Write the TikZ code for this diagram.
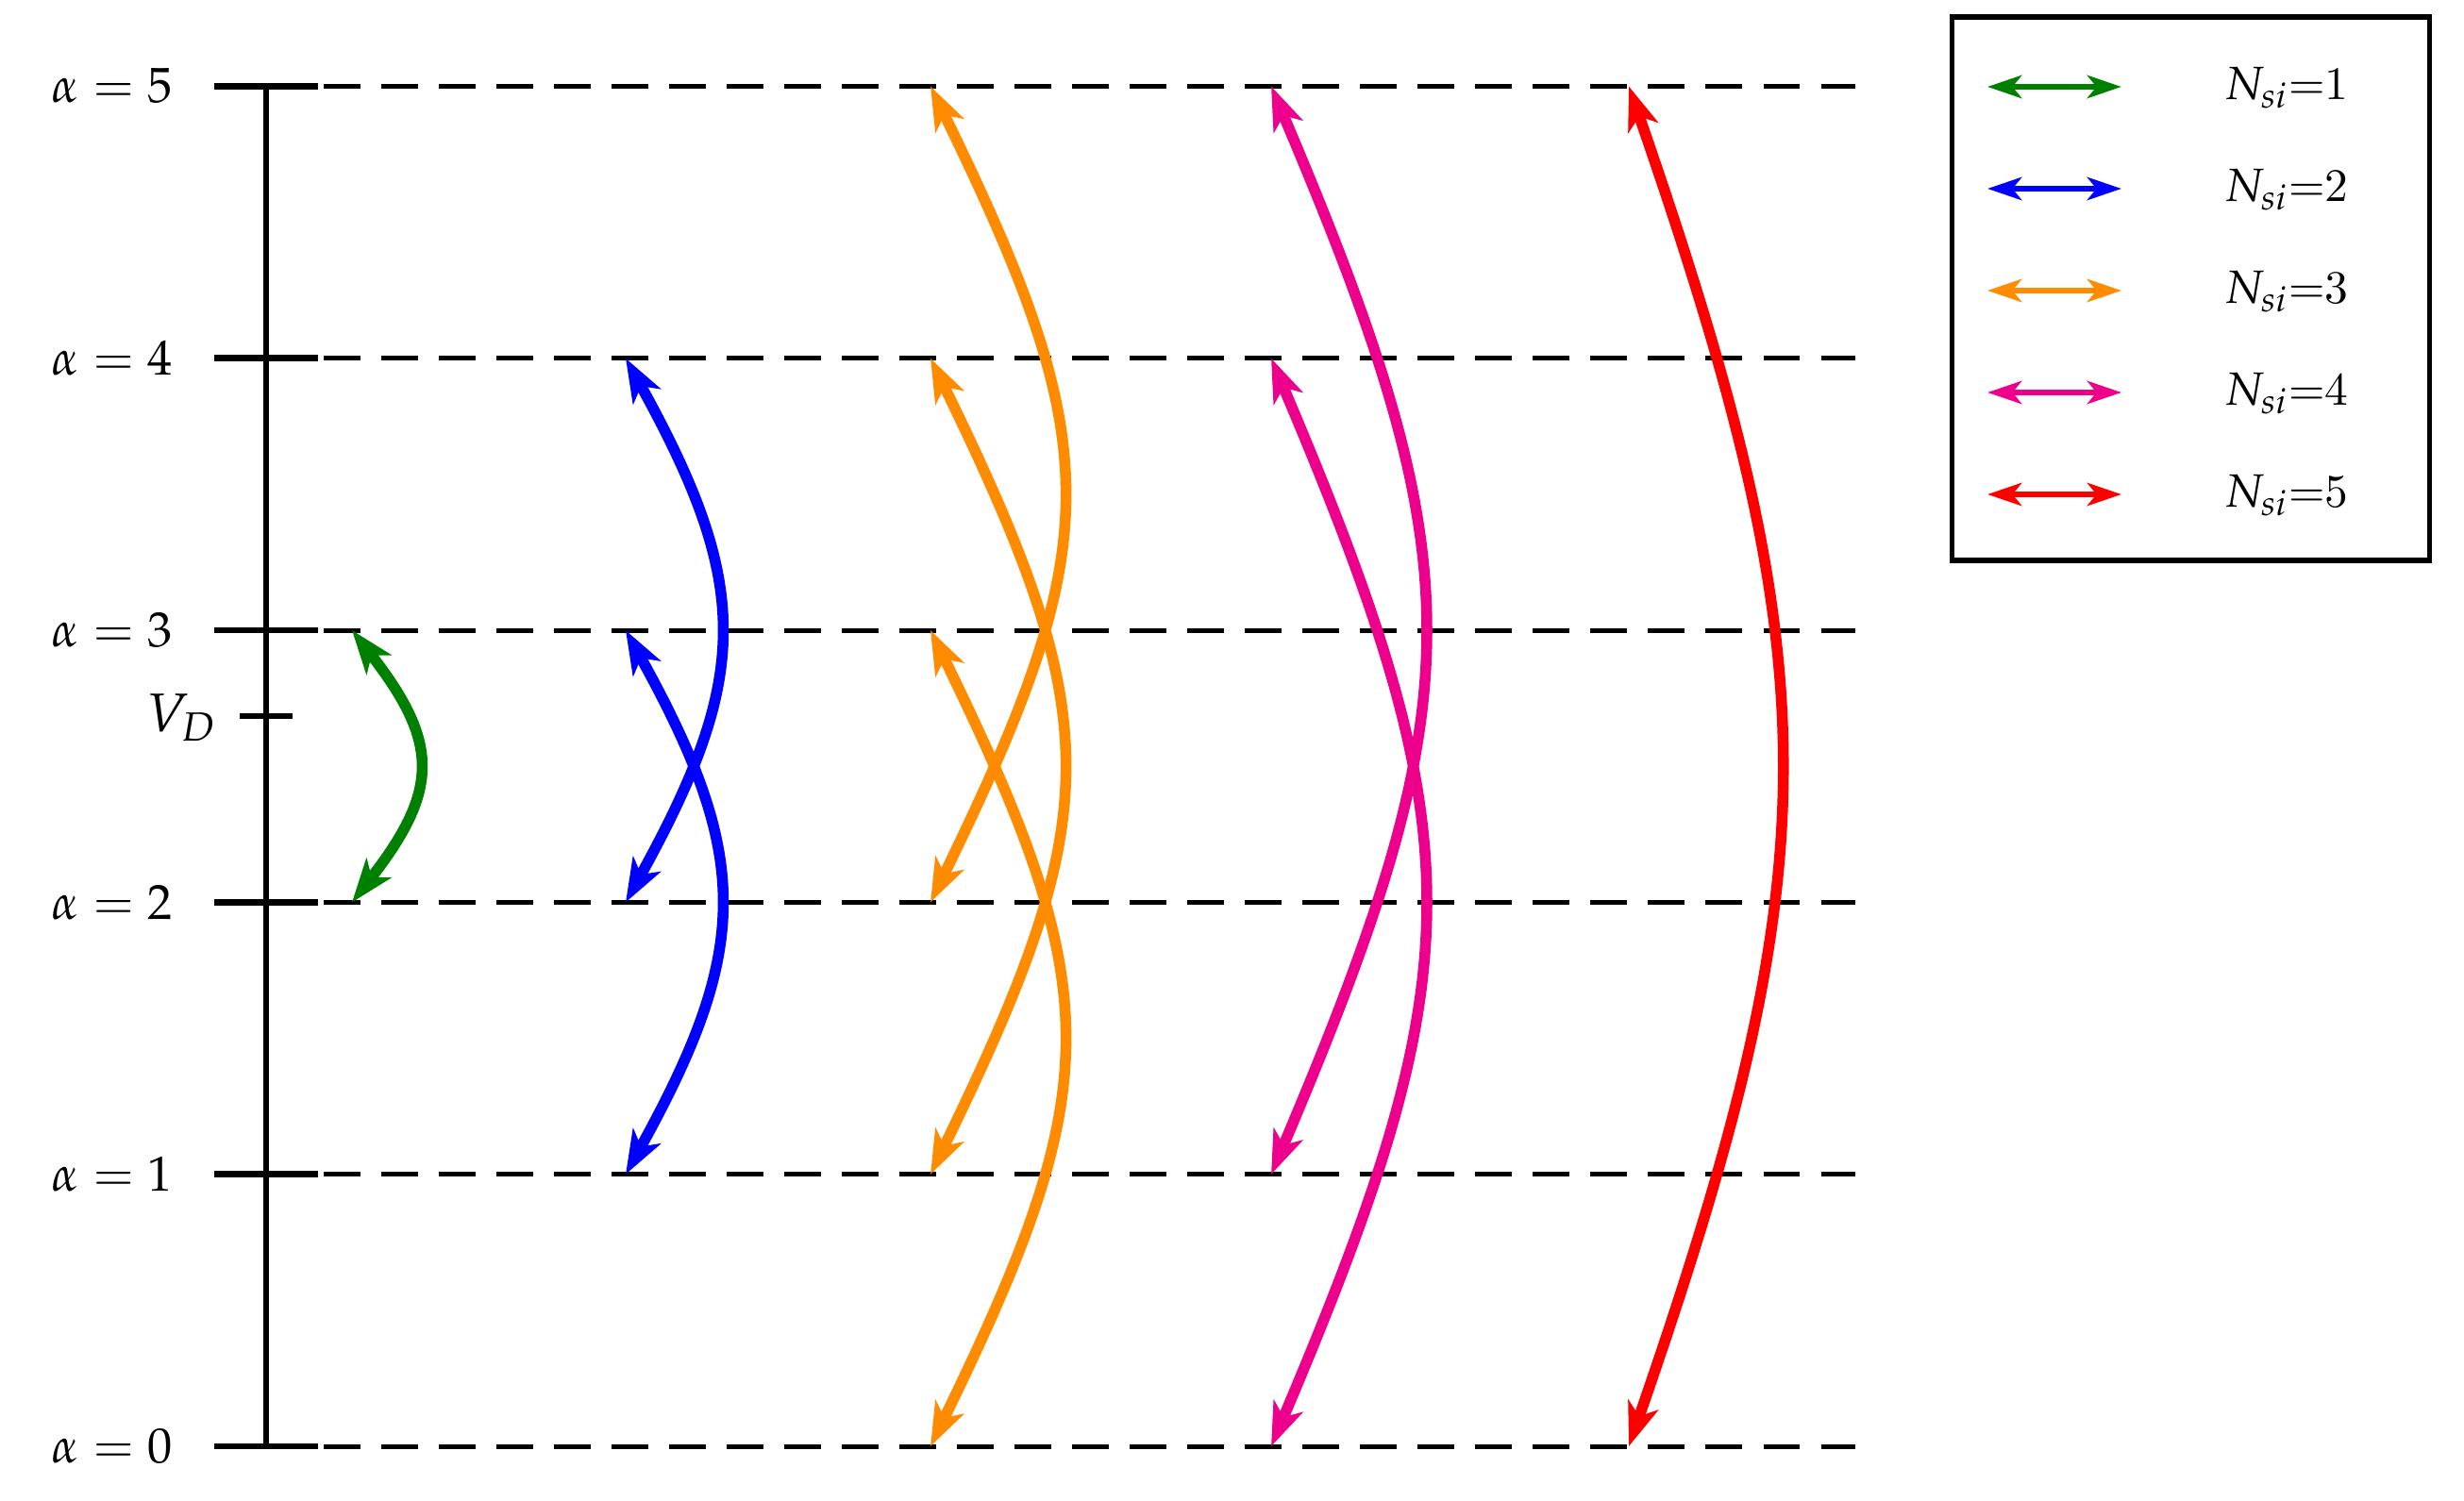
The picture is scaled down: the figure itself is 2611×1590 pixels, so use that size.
\documentclass[tikz,border=0pt]{standalone}
\usepackage{mathpazo}
\usetikzlibrary{arrows.meta}
\definecolor{cgreen}{RGB}{0,128,0}
\definecolor{cblue}{RGB}{0,0,255}
\definecolor{corange}{RGB}{255,140,0}
\definecolor{cpink}{RGB}{236,0,140}
\definecolor{cred}{RGB}{255,0,0}
\tikzset{
  levelline/.style={line width=1.05pt, dash pattern=on 8.06pt off 4.65pt},
  axisline/.style={line width=1.25pt},
  tickline/.style={line width=1.4pt},
  lab/.style={font=\fontsize{10.9}{13}\selectfont, inner sep=0pt},
  legtext/.style={font=\fontsize{10.3}{12.5}\selectfont, inner sep=0pt, anchor=base west},
  arc/.style={line width=2.4pt, arrows={Stealth[length=9.6pt,width=6.9pt,inset=2.6pt]-Stealth[length=9.6pt,width=6.9pt,inset=2.6pt]}},
  leg/.style={line width=1.4pt, arrows={Stealth[length=7.5pt,width=5pt,inset=2pt]-Stealth[length=7.5pt,width=5pt,inset=2pt]}},
  legbox/.style={line width=1.05pt}
}
\begin{document}
\begin{tikzpicture}[x=0.2083pt, y=0.2083pt]
\useasboundingbox (0,0) rectangle (2611,1590);
% axis coordinates
\coordinate (a0) at (282,57);
\coordinate (a1) at (282,345.3);
\coordinate (a2) at (282,633.6);
\coordinate (a3) at (282,921.9);
\coordinate (a4) at (282,1210.2);
\coordinate (a5) at (282,1498.5);
\coordinate (vd) at (282,831);
% level lines
\foreach \i/\y in {0/57,1/345.3,2/633.6,3/921.9,4/1210.2,5/1498.5}{
  \coordinate (e\i) at (1966,\y);
  \draw[levelline] (a\i) -- (e\i);
  \coordinate (tl\i) at (227,\y);
  \coordinate (tr\i) at (337,\y);
  \draw[tickline] (tl\i) -- (tr\i);
}
\draw[axisline] (a5) -- (a0);
\coordinate (vdl) at (254,831);
\coordinate (vdr) at (310,831);
\draw[tickline] (vdl) -- (vdr);
% labels
\node[lab, anchor=east] (l5) at (184,1498.5) {$\alpha = 5$};
\node[lab, anchor=east] (l4) at (184,1210.2) {$\alpha = 4$};
\node[lab, anchor=east] (l3) at (184,921.9) {$\alpha = 3$};
\node[lab, anchor=east] (l2) at (184,633.6) {$\alpha = 2$};
\node[lab, anchor=east] (l1) at (184,345.3) {$\alpha = 1$};
\node[lab, anchor=east] (l0) at (184,57) {$\alpha = 0$};
\node[lab, font=\large, anchor=base east] (lvd) at (231,815) {$V_D$};
% arc endpoints
\coordinate (g3) at (373,921.9);  \coordinate (g2) at (373,633.6);
\coordinate (b4) at (663,1210.2); \coordinate (b3) at (663,921.9);
\coordinate (b2) at (663,633.6);  \coordinate (b1) at (663,345.3);
\coordinate (o5) at (986,1498.5); \coordinate (o4) at (986,1210.2);
\coordinate (o3) at (986,921.9);  \coordinate (o2) at (986,633.6);
\coordinate (o1) at (986,345.3);  \coordinate (o0) at (986,57);
\coordinate (p5) at (1347,1498.5); \coordinate (p4) at (1347,1210.2);
\coordinate (p1) at (1347,345.3);  \coordinate (p0) at (1347,57);
\coordinate (r5) at (1726,1498.5); \coordinate (r0) at (1726,57);
% arcs
\draw[arc, cgreen] (g3) .. controls +(93,-119) and +(93,119) .. (g2);
\draw[arc, cblue] (b4) .. controls +(133,-240) and +(133,240) .. (b2);
\draw[arc, cblue] (b3) .. controls +(133,-240) and +(133,240) .. (b1);
\draw[arc, corange] (o5) .. controls +(187,-383) and +(187,383) .. (o2);
\draw[arc, corange] (o4) .. controls +(187,-383) and +(187,383) .. (o1);
\draw[arc, corange] (o3) .. controls +(187,-383) and +(187,383) .. (o0);
\draw[arc, cpink] (p5) .. controls +(216,-509) and +(216,509) .. (p1);
\draw[arc, cpink] (p4) .. controls +(216,-509) and +(216,509) .. (p0);
\draw[arc, cred] (r5) .. controls +(215,-620) and +(215,620) .. (r0);
% legend
\draw[legbox] (2068,996) rectangle (2574,1572);
\foreach \i/\y/\c in {1/1498/cgreen,2/1390/cblue,3/1282/corange,4/1174/cpink,5/1066/cred}{
  \coordinate (ls\i) at (2106,\y);
  \coordinate (le\i) at (2248,\y);
  \draw[leg, \c] (ls\i) -- (le\i);
}
\node[legtext] (t1) at (2356,1485) {$N_{si}$=1};
\node[legtext] (t2) at (2356,1377) {$N_{si}$=2};
\node[legtext] (t3) at (2356,1269) {$N_{si}$=3};
\node[legtext] (t4) at (2356,1161) {$N_{si}$=4};
\node[legtext] (t5) at (2356,1053) {$N_{si}$=5};
\end{tikzpicture}
\end{document}
